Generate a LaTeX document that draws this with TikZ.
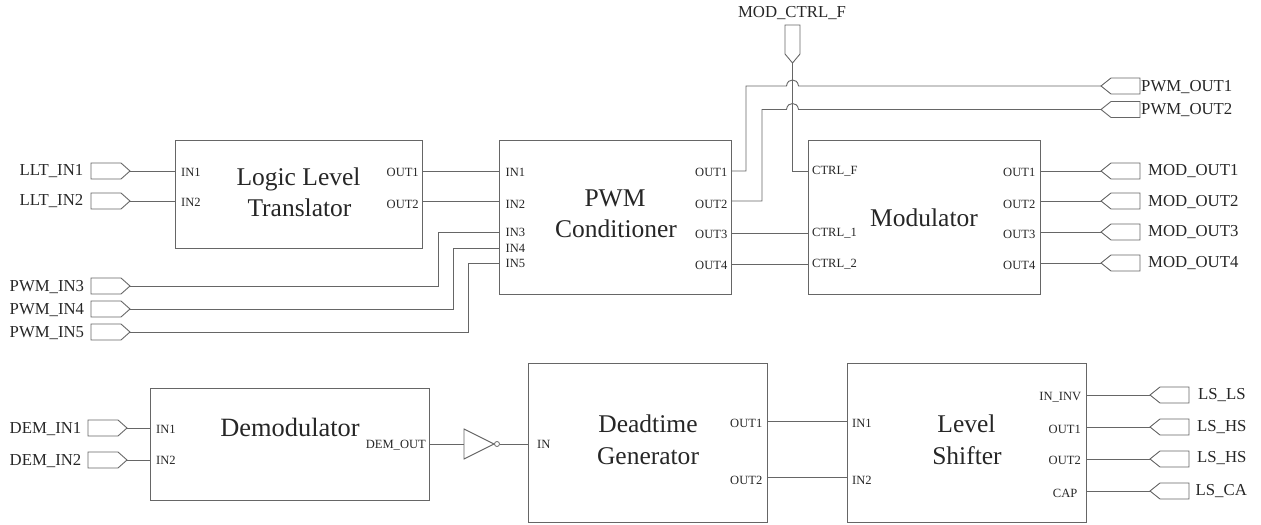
\documentclass[tikz,border=0pt]{standalone}
\usepackage{fontspec}
\setmainfont{Liberation Serif}
\definecolor{wire}{HTML}{666666}
\definecolor{ink}{HTML}{262626}
\tikzset{
  blockbox/.style={draw=wire,line width=0.9bp,inner sep=0pt,outer sep=0pt},
  wireline/.style={draw=wire,line width=0.9bp},
  portbox/.style={draw=wire,line width=0.9bp,line join=miter},
  pinlabel/.style={text=ink,inner sep=0pt,font=\fontsize{12.6}{14}\selectfont},
  portlabel/.style={text=ink,inner sep=0pt,font=\fontsize{16.8}{18}\selectfont},
  titlelabel/.style={text=ink,inner sep=0pt,anchor=base,font=\fontsize{25.6}{31}\selectfont},
}
% \portin{name}{left x}{y}: tip on the right, at left x + 39
\newcommand{\portin}[3]{%
  \coordinate (#1) at (#2+39,#3);
  \draw[portbox] (#2,#3-8) -- (#2+30,#3-8) -- (#1) -- (#2+30,#3+8) -- (#2,#3+8) -- cycle;}
% \portout{name}{tip x}{y}: tip on the left, body width 39
\newcommand{\portout}[3]{%
  \coordinate (#1) at (#2,#3);
  \draw[portbox] (#1) -- (#2+10,#3-8) -- (#2+39,#3-8) -- (#2+39,#3+8) -- (#2+10,#3+8) -- cycle;}
\begin{document}
\begin{tikzpicture}[x=1bp,y=-1bp]
\useasboundingbox (0,0) rectangle (1261,525);
% Blocks
\node[blockbox,minimum width=247bp,minimum height=108bp] (llt) at (298.5,194) {};
\node[blockbox,minimum width=232bp,minimum height=154bp] (pwm) at (615,217) {};
\node[blockbox,minimum width=232bp,minimum height=154bp] (mod) at (924,217) {};
\node[blockbox,minimum width=279.5bp,minimum height=111.5bp] (dem) at (289.75,444.25) {};
\node[blockbox,minimum width=239bp,minimum height=159bp] (dtg) at (647.5,442.5) {};
\node[blockbox,minimum width=239bp,minimum height=159bp] (lsh) at (966.5,442.5) {};
% Titles
\node[titlelabel] (tllt) at (298.5,186) {Logic Level};
\node[titlelabel] (tllb) at (299.5,217) {Translator};
\node[titlelabel] (tpwm) at (615,207) {PWM};
\node[titlelabel] (tpwb) at (616,238) {Conditioner};
\node[titlelabel] (tmod) at (924,227) {Modulator};
\node[titlelabel,font=\fontsize{26.5}{31}\selectfont] (tdem) at (290,436) {Demodulator};
\node[titlelabel] (tdtg) at (648,432) {Deadtime};
\node[titlelabel] (tdtb) at (648,464) {Generator};
\node[titlelabel] (tlsh) at (966.5,432) {Level};
\node[titlelabel] (tlsb) at (967,464) {Shifter};
% Input ports
\portin{pllt1}{91}{171}\portin{pllt2}{91}{201}
\portin{ppwm3}{91}{286}\portin{ppwm4}{91}{309}\portin{ppwm5}{91}{332}
\portin{pdem1}{88}{428}\portin{pdem2}{88}{460}
% Output ports
\portout{ppo1}{1101}{86}\portout{ppo2}{1101}{109.5}
\portout{pmo1}{1101}{171}\portout{pmo2}{1101}{201}\portout{pmo3}{1101}{232}\portout{pmo4}{1101}{263}
\portout{pls1}{1150}{395}\portout{pls2}{1150}{427}\portout{pls3}{1150}{459}\portout{pls4}{1150}{491}
% Top port
\coordinate (pctl) at (792.5,63);
\draw[portbox] (785,25) -- (800,25) -- (800,54) -- (pctl) -- (785,54) -- cycle;
% Port labels
\node[portlabel,anchor=west] (l1) at (19.5,171) {LLT\_IN1};
\node[portlabel,anchor=west] (l2) at (19.5,201) {LLT\_IN2};
\node[portlabel,anchor=west] (l3) at (9.5,287) {PWM\_IN3};
\node[portlabel,anchor=west] (l4) at (9.5,310) {PWM\_IN4};
\node[portlabel,anchor=west] (l5) at (9.5,333) {PWM\_IN5};
\node[portlabel,anchor=west] (l6) at (9.5,429) {DEM\_IN1};
\node[portlabel,anchor=west] (l7) at (9.5,461) {DEM\_IN2};
\node[portlabel] (l8) at (792,13) {MOD\_CTRL\_F};
\node[portlabel,anchor=west] (l9) at (1141,87) {PWM\_OUT1};
\node[portlabel,anchor=west] (l10) at (1141,110) {PWM\_OUT2};
\node[portlabel,anchor=west] (l11) at (1148,171) {MOD\_OUT1};
\node[portlabel,anchor=west] (l12) at (1148,202) {MOD\_OUT2};
\node[portlabel,anchor=west] (l13) at (1148,232.5) {MOD\_OUT3};
\node[portlabel,anchor=west] (l14) at (1148,263.5) {MOD\_OUT4};
\node[portlabel,anchor=west] (l15) at (1198,395.5) {LS\_LS};
\node[portlabel,anchor=west] (l16) at (1197,427.5) {LS\_HS};
\node[portlabel,anchor=west] (l17) at (1197,458.5) {LS\_HS};
\node[portlabel,anchor=west] (l18) at (1195.5,491.5) {LS\_CA};
% Pin labels
\node[pinlabel,anchor=west] (a1) at (181,172.5) {IN1};
\node[pinlabel,anchor=west] (a2) at (181,202.5) {IN2};
\node[pinlabel,anchor=west] (a3) at (386.5,172.5) {OUT1};
\node[pinlabel,anchor=west] (a4) at (386.5,204) {OUT2};
\node[pinlabel,anchor=west] (b1) at (505.5,172.5) {IN1};
\node[pinlabel,anchor=west] (b2) at (505.5,204) {IN2};
\node[pinlabel,anchor=west] (b3) at (505.5,232) {IN3};
\node[pinlabel,anchor=west] (b4) at (505.5,248) {IN4};
\node[pinlabel,anchor=west] (b5) at (505.5,263) {IN5};
\node[pinlabel,anchor=west] (b6) at (695,172.5) {OUT1};
\node[pinlabel,anchor=west] (b7) at (695,204) {OUT2};
\node[pinlabel,anchor=west] (b8) at (695,234) {OUT3};
\node[pinlabel,anchor=west] (b9) at (695,265) {OUT4};
\node[pinlabel,anchor=west] (c1) at (812,171) {CTRL\_F};
\node[pinlabel,anchor=west] (c2) at (812,233) {CTRL\_1};
\node[pinlabel,anchor=west] (c3) at (812,264) {CTRL\_2};
\node[pinlabel,anchor=west] (c4) at (1003,172.5) {OUT1};
\node[pinlabel,anchor=west] (c5) at (1003,204) {OUT2};
\node[pinlabel,anchor=west] (c6) at (1003,234) {OUT3};
\node[pinlabel,anchor=west] (c7) at (1003,265.5) {OUT4};
\node[pinlabel,anchor=west] (d1) at (156,429) {IN1};
\node[pinlabel,anchor=west] (d2) at (156,460.5) {IN2};
\node[pinlabel,anchor=east] (d3) at (426,445) {DEM\_OUT};
\node[pinlabel,anchor=west] (e1) at (537,444) {IN};
\node[pinlabel,anchor=west] (e2) at (730,423) {OUT1};
\node[pinlabel,anchor=west] (e3) at (730,480) {OUT2};
\node[pinlabel,anchor=west] (f1) at (852,423) {IN1};
\node[pinlabel,anchor=west] (f2) at (852,480) {IN2};
\node[pinlabel,anchor=east] (f3) at (1081.5,397) {IN\_INV};
\node[pinlabel,anchor=east] (f4) at (1081,429) {OUT1};
\node[pinlabel,anchor=east] (f5) at (1081,460.5) {OUT2};
\node[pinlabel,anchor=east] (f6) at (1077.5,493) {CAP};
% Simple horizontal connectors
\draw[wireline] (pllt1) -- (pllt1 -| llt.west);
\draw[wireline] (pllt2) -- (pllt2 -| llt.west);
\draw[wireline] (pdem1) -- (pdem1 -| dem.west);
\draw[wireline] (pdem2) -- (pdem2 -| dem.west);
\draw[wireline] (pmo1) -- (pmo1 -| mod.east);
\draw[wireline] (pmo2) -- (pmo2 -| mod.east);
\draw[wireline] (pmo3) -- (pmo3 -| mod.east);
\draw[wireline] (pmo4) -- (pmo4 -| mod.east);
\draw[wireline] (pls1) -- (pls1 -| lsh.east);
\draw[wireline] (pls2) -- (pls2 -| lsh.east);
\draw[wireline] (pls3) -- (pls3 -| lsh.east);
\draw[wireline] (pls4) -- (pls4 -| lsh.east);
% Block to block
\coordinate (w1) at (422,171); \coordinate (w2) at (422,201);
\draw[wireline] (w1) -- (w1 -| pwm.west);
\draw[wireline] (w2) -- (w2 -| pwm.west);
\coordinate (w3) at (731,233); \coordinate (w4) at (731,264);
\draw[wireline] (w3) -- (w3 -| mod.west);
\draw[wireline] (w4) -- (w4 -| mod.west);
\coordinate (w5) at (767,421); \coordinate (w6) at (767,477);
\draw[wireline] (w5) -- (w5 -| lsh.west);
\draw[wireline] (w6) -- (w6 -| lsh.west);
% PWM input jogs
\coordinate (j3) at (438,232); \coordinate (j4) at (453,248); \coordinate (j5) at (468,263);
\draw[wireline] (ppwm3) -| (j3) -- (j3 -| pwm.west);
\draw[wireline] (ppwm4) -| (j4) -- (j4 -| pwm.west);
\draw[wireline] (ppwm5) -| (j5) -- (j5 -| pwm.west);
% PWM outputs with hops over the control line
\coordinate (h1a) at (786.5,86); \coordinate (h1b) at (798.5,86);
\coordinate (h2a) at (786.5,109.5); \coordinate (h2b) at (798.5,109.5);
\coordinate (s1) at (731,171); \coordinate (s2) at (731,201);
\draw[wireline] (s1) -- (746,171) -- (746,86) -- (h1a) .. controls (787,81.5) and (790,80) .. (792.5,80) .. controls (795,80) and (798,81.5) .. (h1b) -- (ppo1);
\draw[wireline] (s2) -- (762,201) -- (762,109.5) -- (h2a) .. controls (787,105) and (790,103.5) .. (792.5,103.5) .. controls (795,103.5) and (798,105) .. (h2b) -- (ppo2);
% Control line
\coordinate (cf) at (792.5,171);
\draw[wireline] (pctl) -- (cf) -- (cf -| mod.west);
% Inverter
\coordinate (invin) at (464,444); \coordinate (invtip) at (494,444);
\draw[wireline] (dem.east |- invin) -- (invin);
\draw[portbox] (464,429) -- (invtip) -- (464,459) -- cycle;
\node[draw=wire,line width=0.8bp,circle,minimum size=5bp,inner sep=0pt] (bub) at (497,444) {};
\draw[wireline] (bub.east) -- (bub.east -| dtg.west);
\end{tikzpicture}
\end{document}
